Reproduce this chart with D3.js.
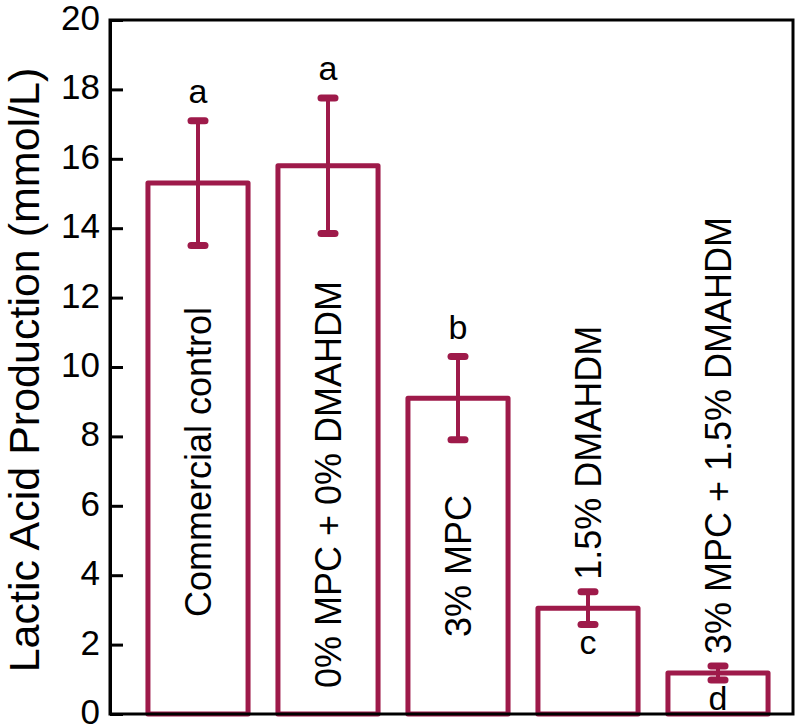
<!DOCTYPE html>
<html>
<head>
<meta charset="utf-8">
<script src="https://cdn.jsdelivr.net/npm/d3@7"></script>
<style>
  body { margin: 0; background: #fff; }
  text { font-family: Arial, "Liberation Sans", sans-serif; }
</style>
</head>
<body>
<div id="chart-area"></div>
<script>
// data
const categories = ["Commercial control", "0% MPC + 0% DMAHDM", "3% MPC", "1.5% DMAHDM", "3% MPC + 1.5% DMAHDM"];
const means = [15.3, 15.8, 9.1, 3.05, 1.18];
const errors = [1.8, 1.95, 1.2, 0.47, 0.2];
const letters = ["a", "a", "b", "c", "d"];
const letterSide = ["above", "above", "above", "below", "below"];
const yTicks = [0, 2, 4, 6, 8, 10, 12, 14, 16, 18, 20];

const barColor = "#9e1a4a";
// where each rotated label starts (px above the bar base, or above the error bar)
const labelInside = [true, true, true, false, false];
const labelLift = [97, 26, 77, 12, 12];

const svg = d3.select("#chart-area")
    .append("svg")
    .attr("width", 800)
    .attr("height", 728);

const plotLeft = 110, plotRight = 793, plotTop = 20, plotBottom = 714;

const y = d3.scaleLinear().domain([0, 20]).range([plotBottom, plotTop]);
const x = d3.scaleBand()
    .domain(categories)
    .range([133, 783])
    .paddingInner(0.23)
    .paddingOuter(0.115);

// bars
svg.selectAll("rect.bar")
    .data(categories)
    .enter()
    .append("rect")
    .attr("class", "bar")
    .attr("x", d => x(d))
    .attr("y", (d, i) => y(means[i]))
    .attr("width", x.bandwidth())
    .attr("height", (d, i) => y(0) - y(means[i]))
    .attr("fill", "#fff")
    .attr("stroke", barColor)
    .attr("stroke-width", 5)
    .attr("stroke-linejoin", "round");

// error bars
const cx = d => x(d) + x.bandwidth() / 2;
svg.selectAll("line.err")
    .data(categories)
    .enter()
    .append("line")
    .attr("x1", cx).attr("x2", cx)
    .attr("y1", (d, i) => y(means[i] - errors[i]))
    .attr("y2", (d, i) => y(means[i] + errors[i]))
    .attr("stroke", barColor)
    .attr("stroke-width", 4);

[-1, 1].forEach(s => {
    svg.selectAll(null)
        .data(categories)
        .enter()
        .append("line")
        .attr("x1", d => cx(d) - 7).attr("x2", d => cx(d) + 7)
        .attr("y1", (d, i) => y(means[i] + s * errors[i]))
        .attr("y2", (d, i) => y(means[i] + s * errors[i]))
        .attr("stroke", barColor)
        .attr("stroke-width", 7)
        .attr("stroke-linecap", "round");
});

// significance letters
svg.selectAll("text.letter")
    .data(categories)
    .enter()
    .append("text")
    .attr("x", cx)
    .attr("y", (d, i) => letterSide[i] === "above"
        ? y(means[i] + errors[i]) - 18
        : y(means[i] - errors[i]) + 30)
    .attr("text-anchor", "middle")
    .attr("font-size", "34px")
    .text((d, i) => letters[i]);

// rotated category labels
svg.selectAll("text.cat")
    .data(categories)
    .enter()
    .append("text")
    .attr("transform", (d, i) => {
        const y0 = labelInside[i] ? y(0) - labelLift[i] : y(means[i] + errors[i]) - labelLift[i];
        return `translate(${cx(d)},${y0}) rotate(-90)`;
    })
    .attr("dy", "0.36em")
    .attr("text-anchor", "start")
    .attr("font-size", "36px")
    .text(d => d);

// frame
svg.append("rect")
    .attr("x", plotLeft).attr("y", plotTop)
    .attr("width", plotRight - plotLeft).attr("height", plotBottom - plotTop)
    .attr("fill", "none")
    .attr("stroke", "#000")
    .attr("stroke-width", 3);

// y axis, ticks pointing inward
const yAxis = svg.append("g")
    .attr("transform", `translate(${plotLeft},0)`)
    .call(d3.axisLeft(y).tickValues(yTicks).tickSizeInner(-13).tickSizeOuter(0).tickPadding(10));
yAxis.select(".domain").attr("stroke-width", 3);
yAxis.selectAll(".tick line").attr("stroke-width", 3);
yAxis.selectAll(".tick text")
    .attr("font-size", "35px")
    .attr("dy", "0.27em")
    .attr("font-family", "Arial, 'Liberation Sans', sans-serif")
    .attr("fill", "#000");

svg.append("text")
    .attr("transform", "translate(39,370) rotate(-90)")
    .attr("text-anchor", "middle")
    .attr("font-size", "43px")
    .text("Lactic Acid Production (mmol/L)");
</script>
</body>
</html>
